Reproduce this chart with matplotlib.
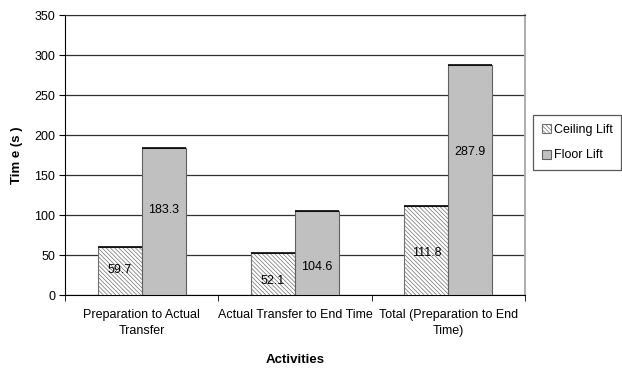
import matplotlib
matplotlib.use("Agg")
import matplotlib.pyplot as plt
import numpy as np

categories = ["Preparation to Actual\nTransfer", "Actual Transfer to End Time", "Total (Preparation to End\nTime)"]
ceiling = [59.7, 52.1, 111.8]
floor = [183.3, 104.6, 287.9]
series_names = ["Ceiling Lift", "Floor Lift"]
yticks = [0, 50, 100, 150, 200, 250, 300, 350]
# label heights (layout)
ceil_lab_y = [31, 17.5, 52.5]
floor_lab_y = [106, 35, 179]

plt.rcParams['font.family'] = ['Liberation Sans', 'DejaVu Sans']
plt.rcParams['hatch.color'] = '#b0b0b0'
plt.rcParams['hatch.linewidth'] = 0.5

fig = plt.figure(figsize=(6.22, 3.79), dpi=100)
ax = fig.add_axes([65/622, 1-295/379, (525-65)/622, (295-15)/379])

x = np.arange(len(categories))
w = 0.286
b1 = ax.bar(x - w/2, ceiling, w, facecolor='white', edgecolor='#707070', hatch='\\' * 8, linewidth=0.8, label=series_names[0], zorder=3)
b2 = ax.bar(x + w/2, floor, w, facecolor='#c0c0c0', edgecolor='#606060', linewidth=0.8, label=series_names[1], zorder=3)
for xi, v, ly in zip(x, ceiling, ceil_lab_y):
    ax.hlines(v, xi - w, xi, color='black', lw=1.2, zorder=4)
    ax.text(xi - w/2, ly, f"{v}", ha='center', va='center', fontsize=9, zorder=5)
for xi, v, ly in zip(x, floor, floor_lab_y):
    ax.hlines(v, xi, xi + w, color='black', lw=1.2, zorder=4)
    ax.text(xi + w/2, ly, f"{v}", ha='center', va='center', fontsize=9, zorder=5)

ax.set_xlim(-0.5, 2.5)
ax.set_ylim(0, 350)
ax.set_yticks(yticks)
ax.set_yticklabels([str(t) for t in yticks], fontsize=9)
ax.yaxis.grid(True, color='#303030', lw=0.9, zorder=0)
ax.set_xticks(x)
ax.set_xticklabels(categories, fontsize=9, linespacing=1.5)
ax.tick_params(axis='x', length=0, pad=10)
ax.set_xticks([-0.5, 0.5, 1.5, 2.5], minor=True)
ax.tick_params(axis='x', which='minor', length=4, color='black')
ax.tick_params(axis='y', length=4, color='black', pad=3)
for s in ['left', 'bottom']:
    ax.spines[s].set_color('black')
ax.spines['top'].set_color('#303030')
ax.spines['right'].set_color('#b0b0b0')
ax.spines['right'].set_linewidth(1.5)

ax.set_ylabel("Tim e (s )", fontsize=9.5, fontweight='bold', labelpad=8)
ax.set_xlabel("Activities", fontsize=9.5, fontweight='bold', labelpad=12)

leg = fig.legend(handles=[b1, b2], labels=series_names, loc='upper left',
                 bbox_to_anchor=(533/622, 1-115/379), fontsize=9, frameon=True,
                 fancybox=False, shadow=False, handlelength=0.7, handleheight=0.7,
                 handletextpad=0.25, borderpad=0.7, labelspacing=1.1, borderaxespad=0)
leg.get_frame().set_edgecolor('#303030')
leg.get_frame().set_linewidth(0.9)

fig.savefig("out.png", dpi=100)
